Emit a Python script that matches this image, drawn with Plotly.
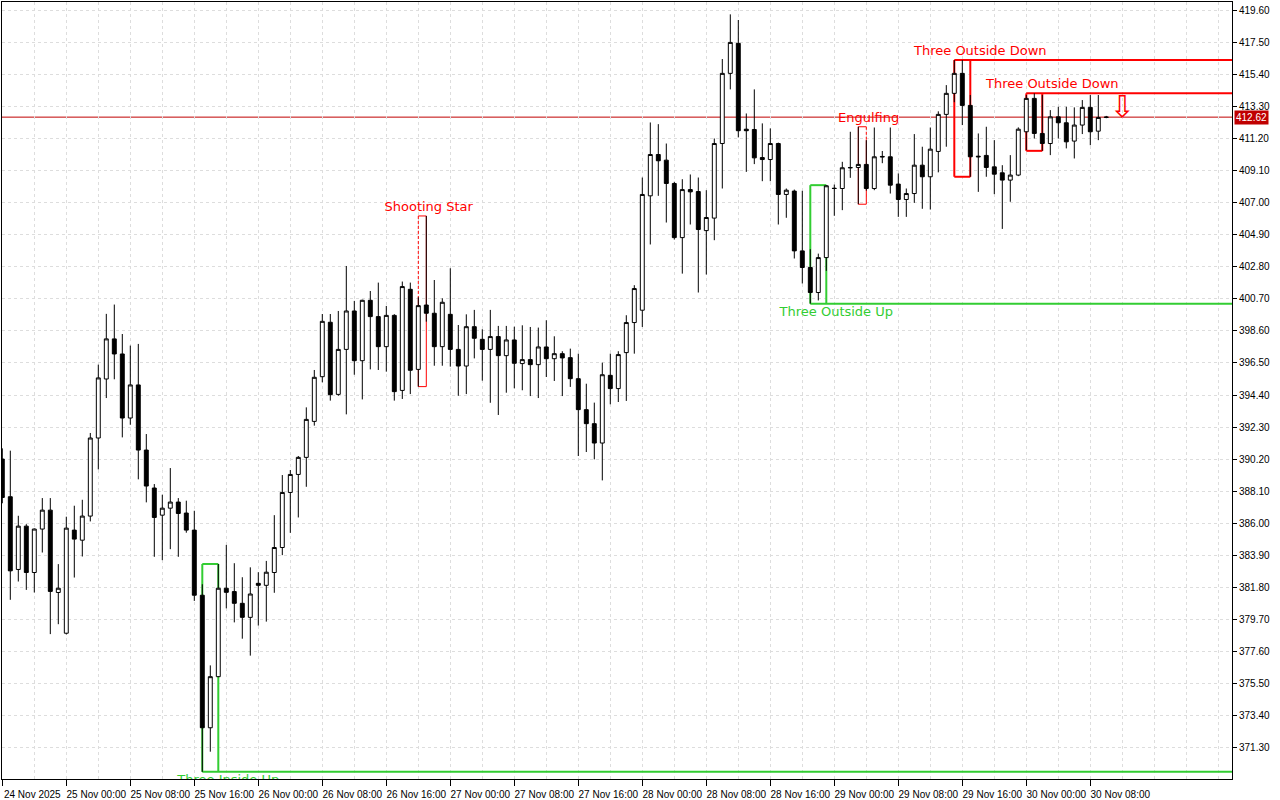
import plotly.graph_objects as go

# ---------------- data ----------------
# hourly bars, hour 0 = 24 Nov 2025 16:00
opens = [390.20, 387.73, 382.96, 385.80, 382.76, 385.61, 386.85, 381.45, 378.78, 385.54,
         384.88, 386.46, 391.58, 395.45, 398.08, 397.09, 392.89, 395.06, 390.79, 388.30,
         386.52, 386.98, 387.38, 386.66, 385.54, 381.27, 372.58, 375.93, 381.73, 381.51,
         380.74, 379.82, 382.05, 381.92, 382.76, 384.40, 388.01, 389.19, 390.31, 392.67,
         395.60, 399.17, 394.44, 397.39, 399.91, 396.65, 400.61, 399.54, 397.57, 399.62,
         394.70, 401.33, 396.08, 400.30, 399.76, 397.57, 399.69, 397.39, 396.30, 398.88,
         398.05, 397.39, 398.23, 396.98, 398.01, 396.46, 396.72, 396.39, 397.55, 396.78,
         397.11, 396.85, 395.47, 393.44, 392.52, 391.25, 395.69, 394.82, 397.18, 399.15,
         399.96, 407.46, 410.17, 409.80, 408.27, 404.72, 407.87, 407.74, 405.18, 406.00,
         410.89, 415.49, 417.46, 411.83, 411.81, 409.97, 409.84, 410.89, 407.55, 407.77,
         403.85, 402.76, 401.12, 403.41, 407.96, 407.94, 409.32, 409.32, 409.52, 407.94,
         410.00, 410.02, 408.23, 407.22, 407.61, 409.47, 408.71, 410.37, 412.80, 414.18,
         415.49, 413.39, 410.06, 410.11, 409.36, 408.97, 408.49, 408.82, 411.66, 413.85,
         411.55, 410.89, 412.64, 412.25, 411.05, 412.10, 413.26, 411.70, 412.60]
highs = [390.90, 390.75, 386.48, 385.93, 385.65, 387.64, 387.64, 383.31, 386.42, 387.14,
         387.53, 391.91, 396.39, 399.72, 400.33, 398.40, 397.64, 397.75, 391.84, 388.56,
         387.86, 389.61, 387.64, 387.47, 386.81, 381.99, 376.67, 383.32, 384.57, 383.37,
         382.45, 383.10, 382.78, 383.52, 386.52, 389.15, 389.48, 390.40, 393.59, 396.04,
         399.71, 399.71, 399.91, 402.86, 400.57, 400.65, 401.22, 401.77, 400.24, 399.70,
         401.84, 401.77, 400.81, 406.14, 401.94, 400.74, 402.71, 398.99, 399.69, 399.98,
         398.71, 399.98, 398.93, 398.93, 398.88, 398.97, 398.86, 398.82, 399.30, 398.25,
         397.27, 397.44, 397.11, 395.14, 393.90, 396.52, 397.11, 397.27, 399.63, 401.60,
         408.66, 412.27, 412.16, 410.89, 408.38, 408.55, 408.86, 408.66, 407.83, 411.22,
         416.43, 419.36, 418.99, 412.86, 414.44, 412.21, 411.88, 410.95, 407.94, 407.87,
         407.79, 403.96, 403.67, 408.16, 408.20, 409.69, 411.66, 411.99, 411.11, 411.94,
         410.40, 411.94, 408.93, 407.94, 411.51, 410.68, 411.94, 413.00, 414.72, 416.36,
         416.36, 414.07, 411.55, 411.99, 411.11, 409.47, 410.13, 411.95, 414.07, 414.18,
         414.07, 413.08, 413.30, 413.30, 413.26, 413.74, 414.07, 414.07, 412.70]
lows = [387.30, 380.97, 382.17, 381.62, 381.45, 384.07, 378.72, 379.37, 378.70, 382.43,
        383.81, 386.11, 389.52, 394.20, 395.43, 391.62, 392.45, 388.87, 387.36, 383.79,
        383.57, 384.29, 383.79, 385.37, 380.90, 369.69, 371.01, 375.90, 380.41, 379.49,
        378.42, 377.31, 379.28, 379.54, 381.43, 383.90, 385.36, 386.37, 388.38, 392.39,
        395.23, 394.03, 394.35, 393.13, 395.73, 394.11, 396.08, 396.04, 395.93, 394.03,
        394.14, 394.46, 394.95, 399.21, 396.32, 396.32, 396.26, 394.35, 394.46, 396.80,
        395.34, 393.89, 393.09, 394.55, 394.84, 394.71, 394.33, 394.20, 395.58, 395.32,
        394.33, 394.93, 390.40, 390.66, 390.18, 388.80, 393.79, 393.94, 394.01, 397.11,
        398.86, 404.27, 407.46, 405.71, 404.59, 402.36, 405.58, 401.12, 402.30, 404.55,
        407.94, 414.44, 411.29, 409.03, 409.54, 408.42, 408.42, 405.58, 406.02, 403.35,
        401.71, 400.39, 400.60, 402.54, 406.15, 406.52, 408.64, 406.91, 407.80, 407.83,
        409.60, 407.61, 406.08, 406.08, 407.00, 406.61, 406.56, 409.00, 410.68, 413.60,
        412.10, 408.71, 407.72, 408.71, 407.57, 405.29, 407.07, 408.75, 410.46, 411.22,
        410.41, 410.13, 411.22, 410.57, 409.91, 411.51, 410.78, 411.11, 412.55]
closes = [387.68, 382.87, 385.80, 382.76, 385.61, 386.85, 381.52, 381.73, 385.67, 384.95,
          386.46, 391.58, 395.52, 398.08, 397.09, 392.89, 395.06, 390.79, 388.43, 386.37,
          386.98, 387.38, 386.63, 385.54, 381.27, 372.58, 375.93, 381.73, 381.46, 380.74,
          379.82, 381.35, 381.92, 382.78, 384.40, 388.01, 389.19, 390.31, 392.80, 395.56,
          399.23, 394.42, 397.39, 399.91, 396.65, 400.61, 399.54, 397.57, 399.62, 394.62,
          401.51, 396.02, 400.26, 399.76, 397.57, 400.48, 397.39, 396.30, 398.88, 398.12,
          397.39, 398.23, 396.98, 398.01, 396.48, 396.72, 396.39, 397.55, 396.78, 397.11,
          396.83, 395.47, 393.44, 392.52, 391.25, 395.73, 394.82, 397.05, 399.15, 401.38,
          407.55, 410.17, 409.76, 408.27, 404.72, 407.87, 407.72, 405.25, 406.04, 410.89,
          415.49, 417.52, 411.73, 411.73, 409.95, 409.84, 410.89, 407.55, 407.83, 403.85,
          402.76, 401.12, 403.41, 408.12, 407.94, 409.30, 409.30, 409.52, 407.94, 410.02,
          410.04, 408.16, 407.22, 407.61, 409.47, 408.71, 410.52, 412.80, 414.18, 415.49,
          413.39, 410.02, 410.02, 409.32, 408.88, 408.49, 408.82, 411.83, 413.85, 411.55,
          410.89, 412.64, 412.25, 411.00, 412.10, 413.26, 411.66, 412.60, 412.62]
bar_hours = list(range(len(opens)))

x_tick_hours = [0, 8, 16, 24, 32, 40, 48, 56, 64, 72, 80, 88, 96, 104, 112, 120, 128, 136]
x_tick_labels = ["24 Nov 2025", "25 Nov 00:00", "25 Nov 08:00", "25 Nov 16:00",
                 "26 Nov 00:00", "26 Nov 08:00", "26 Nov 16:00", "27 Nov 00:00",
                 "27 Nov 08:00", "27 Nov 16:00", "28 Nov 00:00", "28 Nov 08:00",
                 "28 Nov 16:00", "29 Nov 00:00", "29 Nov 08:00", "29 Nov 16:00",
                 "30 Nov 00:00", "30 Nov 08:00"]
grid_hours = [0, 4, 8, 12, 16, 20, 24, 28, 32, 36, 40, 44, 48, 52, 56, 60, 64, 68, 72, 76,
              80, 84, 88, 92, 96, 100, 104, 108, 112, 116, 120, 124, 128, 132, 136, 140,
              144, 148, 152]
price_ticks = [371.30, 373.40, 375.50, 377.60, 379.70, 381.80, 383.90, 386.00, 388.10,
               390.20, 392.30, 394.40, 396.50, 398.60, 400.70, 402.80, 404.90, 407.00,
               409.10, 411.20, 413.30, 415.40, 417.50, 419.60]

pattern_names = ["Three Inside Up", "Shooting Star", "Three Outside Up", "Engulfing",
                 "Three Outside Down", "Three Outside Down"]
pattern_start = [25, 52, 101, 107, 119, 128]
pattern_end = [27, 53, 103, 108, 121, 130]
pattern_bullish = [True, False, True, False, False, False]

signal_hour = 140
signal_price = 413.1

# ---------------- figure ----------------
X_RANGE = [-0.0375, 153.7125]
Y_RANGE = [369.22, 420.17]
GREEN = "#32cd32"
RED = "#ff0000"
GRID = "#dddddd"

fig = go.Figure()

fig.add_trace(go.Candlestick(
    x=bar_hours, open=opens, high=highs, low=lows, close=closes,
    increasing=dict(line=dict(color="black", width=1), fillcolor="white"),
    decreasing=dict(line=dict(color="black", width=1), fillcolor="black"),
    whiskerwidth=0, hoverinfo="skip", showlegend=False,
))

shapes = []
for name, s, e, bull in zip(pattern_names, pattern_start, pattern_end, pattern_bullish):
    top = max(highs[s:e + 1])
    bot = min(lows[s:e + 1])
    col = GREEN if bull else RED
    three = (e - s) == 2
    w = 2 if three else 1

    def ln(x0, y0, x1, y1, dash="solid"):
        shapes.append(dict(type="line", xref="x", yref="y", x0=x0, y0=y0, x1=x1, y1=y1,
                           line=dict(color=col, width=w, dash=dash), layer="between"))

    # verticals
    for idx in (s, e):
        if highs[idx] < top - 1e-9 and not three:
            ln(idx, top, idx, highs[idx], dash="3px,2px")
            ln(idx, highs[idx], idx, bot)
        else:
            ln(idx, top, idx, bot)
    if three and bull:
        ln(s, top, e, top)
        ln(s, bot, X_RANGE[1], bot)
    elif three:
        ln(s, top, X_RANGE[1], top)
        ln(s, bot, e, bot)
    else:
        ln(s, top, e, top)
        ln(s, bot, e, bot)

    off = 1.25 if three else 0.3
    fig.add_trace(go.Scatter(
        x=[e + off], y=[bot if bull else top], mode="markers+text", text=[name],
        marker=dict(size=3 if bull else 1, opacity=0),
        textposition="bottom center" if bull else "top center",
        textfont=dict(family="DejaVu Sans", size=13, color=col),
        cliponaxis=True, hoverinfo="skip", showlegend=False,
    ))

last_price = closes[-1]
shapes.append(dict(type="line", xref="paper", yref="y", x0=0, x1=1, y0=last_price,
                   y1=last_price, line=dict(color="#c00000", width=1), layer="between"))

fig.add_trace(go.Scatter(
    x=[signal_hour], y=[signal_price], mode="text", text=["\u21e9"],
    textposition="middle center",
    textfont=dict(family="DejaVu Sans", size=30, color=RED),
    cliponaxis=True, hoverinfo="skip", showlegend=False,
))

fig.update_layout(
    width=1280, height=800,
    margin=dict(l=2, r=48, t=2, b=21),
    paper_bgcolor="white", plot_bgcolor="white",
    showlegend=False,
    shapes=shapes,
    annotations=[dict(
        xref="paper", yref="y", x=1, y=last_price, xanchor="left", yanchor="middle",
        xshift=2, text=f"{last_price:.2f}", showarrow=False,
        font=dict(family="Liberation Sans", size=10, color="white"),
        bgcolor="#c00000", borderpad=1,
    )],
    xaxis=dict(
        range=X_RANGE, tickmode="array", tickvals=x_tick_hours, ticktext=x_tick_labels,
        ticks="outside", ticklen=6, tickcolor="black", tickwidth=1,
        showline=True, linecolor="black", linewidth=1, mirror=True,
        showgrid=True, gridcolor=GRID, griddash="3px,3px", gridwidth=1,
        minor=dict(tickmode="array", tickvals=grid_hours, showgrid=True,
                   gridcolor=GRID, griddash="3px,3px", gridwidth=1, ticks=""),
        tickfont=dict(family="Liberation Sans", size=10, color="black"),
        ticklabelshift=30, zeroline=False, automargin=False,
        rangeslider=dict(visible=False),
    ),
    yaxis=dict(
        side="right", range=Y_RANGE, tickmode="array", tickvals=price_ticks,
        tickformat=".2f", ticks="outside", ticklen=4, tickcolor="black",
        showline=True, linecolor="black", linewidth=1, mirror=True,
        showgrid=True, gridcolor=GRID, griddash="3px,3px", gridwidth=1,
        tickfont=dict(family="Liberation Sans", size=10, color="black"),
        zeroline=False, automargin=False,
    ),
)

fig.write_html(
    "out.html",
    config={"displayModeBar": False},
    post_script="document.body.style.margin='0';document.body.style.overflow='hidden';",
)
